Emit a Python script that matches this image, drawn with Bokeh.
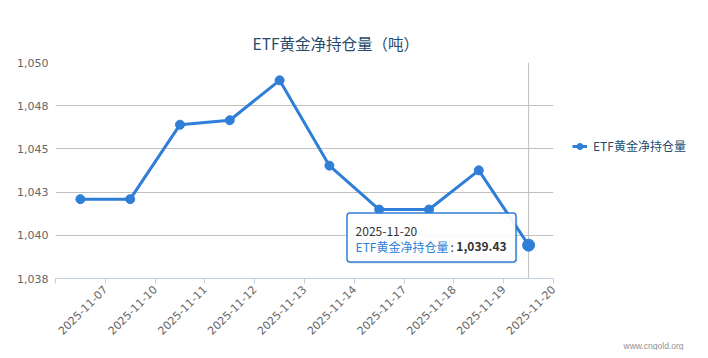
import math
from bokeh.plotting import figure
from bokeh.models import (Range1d, FixedTicker, CustomJSTickFormatter, NumeralTickFormatter,
                          Span, Label, BoxAnnotation, Legend, LegendItem, Title)
from bokeh.embed import file_html
from bokeh.resources import INLINE

# ---- data ----
title_text = "ETF黄金净持仓量（吨）"
series_name = "ETF黄金净持仓量"
dates = ["2025-11-07", "2025-11-10", "2025-11-11", "2025-11-12", "2025-11-13",
         "2025-11-14", "2025-11-17", "2025-11-18", "2025-11-19", "2025-11-20"]
holdings = [1042.09, 1042.09, 1046.40, 1046.66, 1048.97,
            1044.03, 1041.49, 1041.49, 1043.76, 1039.43]
y_ticks = [1037.5, 1040.0, 1042.5, 1045.0, 1047.5, 1050.0]
credit_text = "www.cngold.org"

BLUE = "#2f7ed8"
CJK = "Noto Sans CJK SC"
x = list(range(len(dates)))

p = figure(frame_width=498, frame_height=216, output_backend="svg", toolbar_location=None,
           x_range=Range1d(-0.5, len(dates) - 0.5),
           y_range=Range1d(y_ticks[0], y_ticks[-1]),
           min_border_left=55, min_border_right=147, min_border_top=62, min_border_bottom=72,
           outline_line_color=None, background_fill_color="white", border_fill_color="white")

# title
p.title.text = title_text
p.title.align = "left"
p.title.offset = 197
p.title.text_font = CJK
p.title.text_font_size = "15.5px"
p.title.text_font_style = "normal"
p.title.text_color = "#274b6d"
p.title.standoff = 18

# y axis
p.yaxis.ticker = FixedTicker(ticks=y_ticks)
p.yaxis.formatter = NumeralTickFormatter(format="0,0")
p.yaxis.axis_line_color = None
p.yaxis.major_tick_line_color = None
p.yaxis.minor_tick_line_color = None
p.yaxis.major_tick_out = 0
p.yaxis.major_tick_in = 0
p.yaxis.major_label_standoff = 7
p.yaxis.major_label_text_font = "DejaVu Sans"
p.yaxis.major_label_text_font_size = "11px"
p.yaxis.major_label_text_color = "#666666"
p.ygrid.ticker = FixedTicker(ticks=y_ticks)
p.ygrid.grid_line_color = "#C0C0C0"
p.xgrid.grid_line_color = None

# x axis (ticks at category boundaries)
p.xaxis.ticker = FixedTicker(ticks=[i - 0.5 for i in range(len(dates) + 1)])
p.xaxis.formatter = CustomJSTickFormatter(args=dict(labels=dates), code="""
    const i = Math.round(tick + 0.5);
    return (i >= 1 && i <= labels.length) ? labels[i - 1] : '';
""")
p.xaxis.major_label_orientation = math.pi / 4
p.xaxis.axis_line_color = "#C0D0E0"
p.xaxis.major_tick_line_color = "#C0D0E0"
p.xaxis.major_tick_out = 5
p.xaxis.major_tick_in = 0
p.xaxis.minor_tick_line_color = None
p.xaxis.major_label_standoff = 4
p.xaxis.major_label_text_font = "DejaVu Sans"
p.xaxis.major_label_text_font_size = "11px"
p.xaxis.major_label_text_color = "#666666"

# credits
p.add_layout(Title(text=credit_text, align="left", offset=568, text_font="Liberation Sans",
                   text_font_size="8.5px", text_font_style="normal",
                   text_color="#909090", standoff=-6), "below")

# crosshair at the hovered (last) point
p.add_layout(Span(location=x[-1], dimension="height", line_color="#C0C0C0",
                  line_width=1, level="underlay"))

r_line = p.line(x, holdings, line_color=BLUE, line_width=3)
r_pts = p.scatter(x, holdings, size=9, fill_color=BLUE, line_color=BLUE)
p.scatter([x[-1]], [holdings[-1]], size=12, fill_color=BLUE, line_color=BLUE)

legend = Legend(items=[LegendItem(label=series_name, renderers=[r_line, r_pts])],
                location=(19, 124), padding=0, margin=0, spacing=0,
                glyph_width=15, glyph_height=16, label_height=16, label_standoff=6,
                border_line_color=None, background_fill_alpha=0,
                label_text_font=CJK, label_text_font_size="12px",
                label_text_color="#274b6d")
p.add_layout(legend, "right")

# tooltip
p.add_layout(BoxAnnotation(left=293.5, right=462.5, top=63.5, bottom=14.5,
                           left_units="screen", right_units="screen",
                           top_units="screen", bottom_units="screen",
                           fill_color="black", fill_alpha=0.07, line_color=None,
                           border_radius=3))
p.add_layout(BoxAnnotation(left=291.5, right=460.5, top=65.5, bottom=16.5,
                           left_units="screen", right_units="screen",
                           top_units="screen", bottom_units="screen",
                           fill_color="white", fill_alpha=0.92, line_color=BLUE,
                           line_alpha=1.0, line_width=1.5, border_radius=3))
p.add_layout(Label(x=x[-1], y=holdings[-1], x_offset=-173, y_offset=14, text=dates[-1],
                   text_align="left", text_baseline="middle", text_font=CJK,
                   text_font_size="12px", text_color="#333333"))
p.add_layout(Label(x=x[-1], y=holdings[-1], x_offset=-173, y_offset=-1, text=series_name,
                   text_align="left", text_baseline="middle", text_font=CJK,
                   text_font_size="12px", text_color=BLUE))
p.add_layout(Label(x=x[-1], y=holdings[-1], x_offset=-78, y_offset=-1, text=":",
                   text_align="left", text_baseline="middle", text_font=CJK,
                   text_font_size="12px", text_color="#333333"))
p.add_layout(Label(x=x[-1], y=holdings[-1], x_offset=-22, y_offset=-1,
                   text=f"{holdings[-1]:,.2f}",
                   text_align="right", text_baseline="middle", text_font=CJK,
                   text_font_size="12px", text_font_style="bold", text_color="#333333"))

with open("out.html", "w", encoding="utf-8") as f:
    f.write(file_html(p, INLINE, title="ETF"))
